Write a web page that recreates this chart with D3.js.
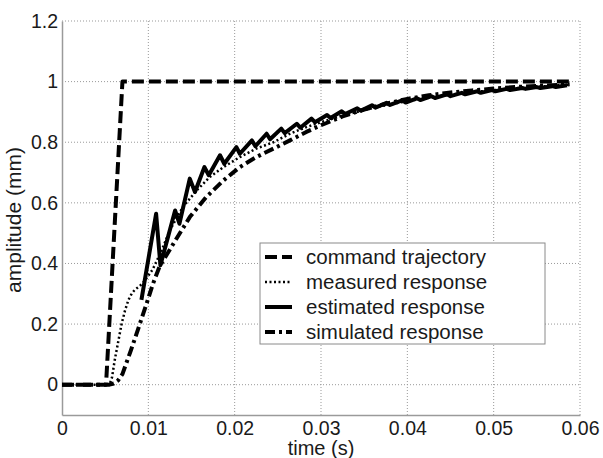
<!DOCTYPE html>
<html>
<head>
<meta charset="utf-8">
<script src="https://cdn.jsdelivr.net/npm/d3@7"></script>
<style>
  body { margin: 0; background: #fff; }
  text { font-family: "Liberation Sans", Arial, sans-serif; fill: #1a1a1a; }
</style>
</head>
<body>
<div id="wrapper"></div>
<script>
// command trajectory
const cmdT = [0, 0.0051, 0.0070, 0.0588]
const cmdA = [0, 0, 1, 1]

// measured response (dotted)
const measT = [0, 0.0055, 0.0058, 0.0061, 0.0065, 0.0069, 0.0073, 0.0077, 0.0081, 0.0085, 0.009, 0.0095, 0.01, 0.0105, 0.011, 0.0115, 0.0125, 0.014, 0.0156, 0.0171, 0.0187, 0.0206, 0.0225, 0.0245, 0.0264, 0.0283, 0.03, 0.0325, 0.035, 0.0375, 0.04, 0.0425, 0.045, 0.0475, 0.05, 0.0525, 0.055, 0.0575, 0.0588]
const measA = [0, 0, 0.025, 0.08, 0.14, 0.2, 0.245, 0.28, 0.302, 0.315, 0.325, 0.34, 0.36, 0.38, 0.41, 0.44, 0.51, 0.586, 0.641, 0.685, 0.718, 0.751, 0.779, 0.80, 0.828, 0.85, 0.866, 0.888, 0.906, 0.922, 0.936, 0.947, 0.957, 0.965, 0.972, 0.978, 0.983, 0.988, 0.99]

// estimated response (solid, sawtooth)
const estT = [0.0092, 0.0109, 0.0114, 0.0131, 0.0136, 0.0148, 0.0154, 0.0165, 0.0170, 0.0183, 0.0188, 0.0202, 0.0206, 0.0220, 0.0224, 0.0237, 0.0241, 0.0254, 0.0258, 0.0272, 0.0276, 0.0289, 0.0293, 0.0307, 0.0311, 0.0324, 0.0328, 0.0342, 0.0346, 0.0359, 0.0363, 0.0376, 0.0380, 0.0394, 0.0398, 0.0411, 0.0415, 0.0428, 0.0432, 0.0446, 0.0450, 0.0463, 0.0467, 0.0481, 0.0485, 0.0498, 0.0502, 0.0515, 0.0519, 0.0533, 0.0537, 0.0550, 0.0554, 0.0568, 0.0572, 0.0585]
const estA = [0.28, 0.564, 0.394, 0.575, 0.531, 0.68, 0.636, 0.718, 0.691, 0.757, 0.729, 0.784, 0.762, 0.806, 0.787, 0.828, 0.81, 0.845, 0.83, 0.861, 0.848, 0.878, 0.866, 0.89, 0.88, 0.902, 0.893, 0.912, 0.904, 0.922, 0.914, 0.93, 0.923, 0.938, 0.931, 0.945, 0.939, 0.952, 0.946, 0.958, 0.952, 0.963, 0.958, 0.968, 0.963, 0.972, 0.968, 0.976, 0.972, 0.979, 0.976, 0.982, 0.979, 0.985, 0.982, 0.988]

// simulated response (dash-dot)
const simT = [0, 0.0055, 0.006, 0.0065, 0.007, 0.0075, 0.008, 0.0086, 0.0093, 0.01, 0.0105, 0.0113, 0.0129, 0.0148, 0.0167, 0.0187, 0.0206, 0.0225, 0.0245, 0.0264, 0.0283, 0.03, 0.0325, 0.035, 0.0375, 0.04, 0.0425, 0.045, 0.0475, 0.05, 0.0525, 0.055, 0.0575, 0.0588]
const simA = [0, 0, 0.004, 0.014, 0.035, 0.075, 0.115, 0.165, 0.225, 0.285, 0.33, 0.39, 0.465, 0.553, 0.619, 0.674, 0.718, 0.751, 0.779, 0.806, 0.834, 0.856, 0.885, 0.908, 0.927, 0.943, 0.955, 0.964, 0.971, 0.977, 0.982, 0.986, 0.989, 0.991]

const xTicks = [0, 0.01, 0.02, 0.03, 0.04, 0.05, 0.06]
const yTicks = [0, 0.2, 0.4, 0.6, 0.8, 1, 1.2]
const legendLabels = ["command trajectory", "measured response", "estimated response", "simulated response"]

function drawChart() {
    let dimensions = {
        width: 603,
        height: 458,
        margin: { top: 21, right: 23, bottom: 43, left: 62 },
    }
    dimensions.boundedWidth = dimensions.width - dimensions.margin.left - dimensions.margin.right
    dimensions.boundedHeight = dimensions.height - dimensions.margin.top - dimensions.margin.bottom

    const svg = d3.select("#wrapper")
        .append("svg")
        .attr("width", dimensions.width)
        .attr("height", dimensions.height)

    const main = svg.append("g")
        .attr("transform", `translate(${dimensions.margin.left}, ${dimensions.margin.top})`)

    const x = d3.scaleLinear()
        .domain([0, 0.06])
        .range([0, dimensions.boundedWidth])
    const y = d3.scaleLinear()
        .domain([-0.1, 1.2])
        .range([dimensions.boundedHeight, 0])

    // grid
    main.append("g")
        .selectAll("line")
        .data(xTicks.slice(1))
        .join("line")
        .attr("x1", d => x(d)).attr("x2", d => x(d))
        .attr("y1", 0).attr("y2", dimensions.boundedHeight)
        .attr("stroke", "#999").attr("stroke-dasharray", "1,2")
    main.append("g")
        .selectAll("line")
        .data(yTicks)
        .join("line")
        .attr("y1", d => y(d)).attr("y2", d => y(d))
        .attr("x1", 0).attr("x2", dimensions.boundedWidth)
        .attr("stroke", "#999").attr("stroke-dasharray", "1,2")

    // axes
    main.append("g")
        .attr("transform", `translate(0, ${dimensions.boundedHeight})`)
        .call(d3.axisBottom(x).tickValues(xTicks).tickSize(0).tickPadding(6).tickFormat(d3.format("")))
        .call(g => g.select(".domain").attr("stroke", "#9a9a9a").attr("stroke-width", 1.5))
        .call(g => g.selectAll(".tick text").attr("font-size", 19.5).attr("fill", "#1a1a1a")
            .style("font-family", '"Liberation Sans", Arial, sans-serif'))
    main.append("g")
        .call(d3.axisLeft(y).tickValues(yTicks).tickSize(0).tickPadding(4).tickFormat(d3.format("")))
        .call(g => g.select(".domain").attr("stroke", "#9a9a9a").attr("stroke-width", 1.5))
        .call(g => g.selectAll(".tick text").attr("font-size", 19.5).attr("fill", "#1a1a1a")
            .style("font-family", '"Liberation Sans", Arial, sans-serif'))

    svg.append("text")
        .attr("x", dimensions.margin.left + dimensions.boundedWidth / 2)
        .attr("y", 455)
        .attr("text-anchor", "middle")
        .attr("font-size", 20)
        .text("time (s)")
    svg.append("text")
        .attr("transform", `translate(21, ${dimensions.margin.top + dimensions.boundedHeight / 2 + 2}) rotate(-90)`)
        .attr("text-anchor", "middle")
        .attr("font-size", 21)
        .text("amplitude (mm)")

    // series
    const series = [
        { t: cmdT, a: cmdA, width: 4, dash: "12,5" },
        { t: measT, a: measA, width: 2.5, dash: "2,2.5" },
        { t: estT, a: estA, width: 4, dash: null },
        { t: simT, a: simA, width: 4, dash: "10,4,3,4" },
    ]
    const line = d3.line()
        .x(d => x(d[0]))
        .y(d => y(d[1]))

    main.append("g")
        .selectAll("path")
        .data(series)
        .join("path")
        .attr("d", s => line(d3.zip(s.t, s.a)))
        .attr("fill", "none")
        .attr("stroke", "#000")
        .attr("stroke-width", s => s.width)
        .attr("stroke-dasharray", s => s.dash)
        .attr("stroke-linejoin", "round")

    // legend
    const legend = svg.append("g")
        .attr("transform", "translate(260, 243)")
    legend.append("rect")
        .attr("width", 285).attr("height", 101)
        .attr("fill", "#fff").attr("stroke", "#8a8a8a").attr("stroke-width", 1)
    const row = legend.selectAll(".row")
        .data(series)
        .join("g")
        .attr("class", "row")
        .attr("transform", (d, i) => `translate(0, ${14 + i * 25})`)
    row.append("line")
        .attr("x1", 5).attr("x2", 32)
        .attr("stroke", "#000")
        .attr("stroke-width", s => s.width)
        .attr("stroke-dasharray", s => s.dash)
    row.append("text")
        .attr("x", 46)
        .attr("dy", "0.35em")
        .attr("font-size", 20.5)
        .text((d, i) => legendLabels[i])
}

drawChart()
</script>
</body>
</html>
